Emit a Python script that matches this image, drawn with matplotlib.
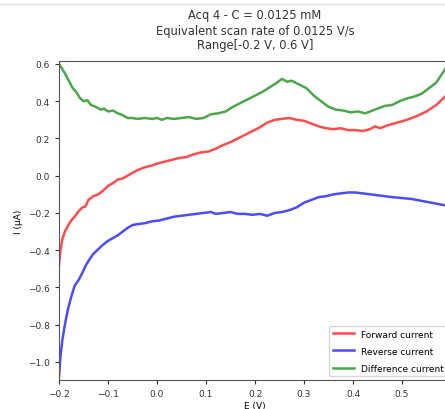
import matplotlib
matplotlib.use("Agg")
import matplotlib.pyplot as plt

# potential (V) and currents (uA)
e_fwd = [-0.200, -0.197, -0.193, -0.188, -0.182, -0.175, -0.168, -0.160, -0.152, -0.146,
         -0.140, -0.130, -0.120, -0.110, -0.100, -0.090, -0.080, -0.070, -0.060, -0.050,
         -0.040, -0.025, -0.010, 0.000, 0.015, 0.030, 0.045, 0.060, 0.075, 0.090,
         0.105, 0.120, 0.135, 0.150, 0.165, 0.180, 0.195, 0.210, 0.225, 0.240,
         0.255, 0.270, 0.285, 0.300, 0.315, 0.330, 0.345, 0.360, 0.375, 0.390,
         0.405, 0.420, 0.435, 0.445, 0.455, 0.470, 0.490, 0.510, 0.530, 0.550,
         0.570, 0.590, 0.600]
i_fwd = [-0.48, -0.40, -0.34, -0.30, -0.27, -0.24, -0.22, -0.19, -0.17, -0.165,
         -0.13, -0.11, -0.10, -0.08, -0.055, -0.04, -0.02, -0.015, 0.0, 0.015,
         0.03, 0.045, 0.055, 0.065, 0.075, 0.085, 0.095, 0.10, 0.115, 0.125,
         0.13, 0.145, 0.165, 0.18, 0.20, 0.22, 0.24, 0.26, 0.285, 0.30,
         0.305, 0.31, 0.30, 0.295, 0.28, 0.265, 0.255, 0.25, 0.255, 0.245,
         0.245, 0.24, 0.25, 0.265, 0.255, 0.27, 0.285, 0.30, 0.32, 0.345,
         0.38, 0.43, 0.46]

e_rev = [-0.200, -0.197, -0.193, -0.188, -0.182, -0.175, -0.168, -0.160, -0.152, -0.145,
         -0.138, -0.130, -0.120, -0.110, -0.100, -0.090, -0.080, -0.070, -0.060, -0.050,
         -0.040, -0.025, -0.010, 0.005, 0.020, 0.035, 0.050, 0.065, 0.080, 0.095,
         0.110, 0.120, 0.135, 0.150, 0.165, 0.180, 0.195, 0.210, 0.225, 0.240,
         0.255, 0.270, 0.285, 0.300, 0.315, 0.330, 0.345, 0.360, 0.375, 0.390,
         0.405, 0.420, 0.435, 0.450, 0.465, 0.480, 0.500, 0.520, 0.540, 0.560,
         0.580, 0.600]
i_rev = [-1.08, -0.97, -0.88, -0.80, -0.72, -0.65, -0.59, -0.56, -0.52, -0.48,
         -0.45, -0.42, -0.395, -0.37, -0.35, -0.335, -0.32, -0.30, -0.28, -0.265,
         -0.26, -0.255, -0.245, -0.24, -0.23, -0.22, -0.215, -0.21, -0.205, -0.20,
         -0.195, -0.205, -0.20, -0.195, -0.205, -0.205, -0.21, -0.205, -0.215, -0.20,
         -0.195, -0.185, -0.17, -0.145, -0.13, -0.115, -0.11, -0.10, -0.095, -0.09,
         -0.09, -0.095, -0.10, -0.105, -0.11, -0.115, -0.12, -0.125, -0.135, -0.145,
         -0.155, -0.165]

e_diff = [-0.200, -0.195, -0.188, -0.180, -0.172, -0.165, -0.158, -0.150, -0.142, -0.135,
          -0.125, -0.115, -0.108, -0.100, -0.090, -0.080, -0.070, -0.060, -0.050, -0.040,
          -0.025, -0.010, 0.000, 0.010, 0.020, 0.035, 0.050, 0.065, 0.080, 0.095,
          0.110, 0.125, 0.140, 0.155, 0.170, 0.185, 0.200, 0.215, 0.230, 0.245,
          0.255, 0.265, 0.275, 0.290, 0.305, 0.320, 0.335, 0.350, 0.365, 0.380,
          0.395, 0.410, 0.425, 0.440, 0.450, 0.465, 0.480, 0.495, 0.510, 0.525,
          0.540, 0.555, 0.570, 0.585, 0.600]
i_diff = [0.60, 0.58, 0.55, 0.51, 0.47, 0.45, 0.42, 0.40, 0.405, 0.38,
          0.37, 0.355, 0.36, 0.345, 0.35, 0.335, 0.325, 0.31, 0.31, 0.305,
          0.31, 0.305, 0.31, 0.30, 0.31, 0.305, 0.31, 0.315, 0.305, 0.31,
          0.33, 0.335, 0.345, 0.37, 0.39, 0.41, 0.43, 0.45, 0.475, 0.50,
          0.52, 0.505, 0.51, 0.49, 0.47, 0.43, 0.40, 0.37, 0.355, 0.35,
          0.34, 0.345, 0.335, 0.35, 0.36, 0.375, 0.38, 0.40, 0.415, 0.425,
          0.44, 0.47, 0.50, 0.56, 0.62]

fig = plt.figure(figsize=(4.45, 4.1), dpi=100)
# the reference is a cropped screenshot: axes run past the right edge
ax = fig.add_axes([59 / 445, 29 / 410, 392 / 445, 319 / 410])

ax.plot(e_fwd, i_fwd, color='r', alpha=0.7, lw=1.8, label='Forward current')
ax.plot(e_rev, i_rev, color='b', alpha=0.7, lw=1.8, label='Reverse current')
ax.plot(e_diff, i_diff, color='g', alpha=0.7, lw=1.8, label='Difference current')

ax.set_xlim(-0.2, 0.6)
ax.set_ylim(-1.097, 0.616)
ax.set_xticks([-0.2, -0.1, 0.0, 0.1, 0.2, 0.3, 0.4, 0.5])
ax.set_yticks([-1.0, -0.8, -0.6, -0.4, -0.2, 0.0, 0.2, 0.4, 0.6])
ax.tick_params(labelsize=6.5, length=3, colors='#333333')
for s in ax.spines.values():
    s.set_color('#555555')
ax.set_xlabel('E (V)', fontsize=6.5, labelpad=2)
ax.set_ylabel('I (μA)', fontsize=6.5)
ax.set_title('Acq 4 - C = 0.0125 mM\nEquivalent scan rate of 0.0125 V/s\nRange[-0.2 V, 0.6 V]',
             fontsize=8.3, color='#333333', linespacing=1.2, pad=9)
ax.legend(loc='lower right', fontsize=6.5, framealpha=0.8, labelspacing=0.9,
          handlelength=2.3, borderaxespad=0.4)

# thin separator line at the top of the screenshot
fig.add_artist(plt.Line2D([0, 1], [1 - 5 / 410, 1 - 5 / 410], color='#e0e0e0', lw=1))

fig.savefig('out.png', dpi=100)
